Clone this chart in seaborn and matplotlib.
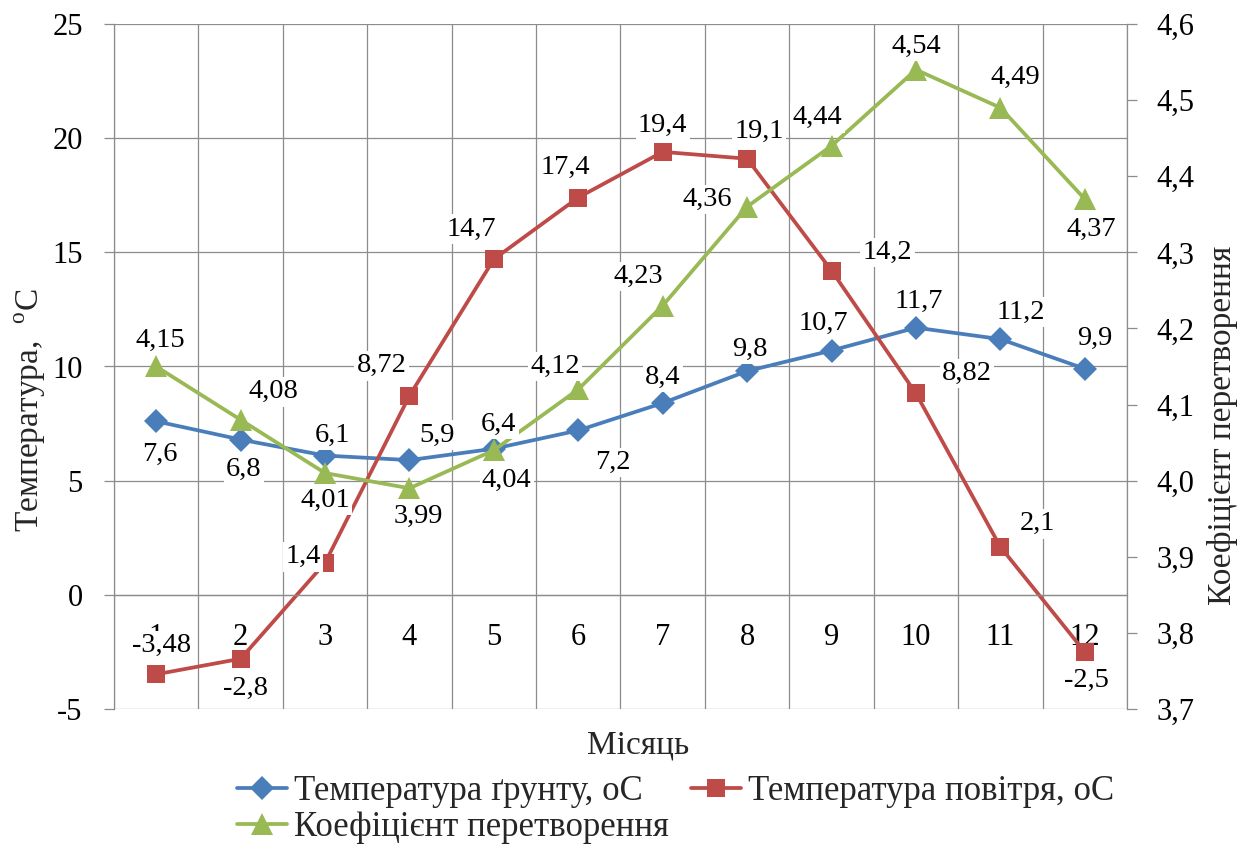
import matplotlib
matplotlib.use("Agg")
import matplotlib.pyplot as plt
import seaborn as sns
import pandas as pd
from matplotlib.ticker import FuncFormatter

# ---- data -------------------------------------------------------------
months = list(range(1, 13))
month_labels = [str(m) for m in months]
ground_temp = [7.6, 6.8, 6.1, 5.9, 6.4, 7.2, 8.4, 9.8, 10.7, 11.7, 11.2, 9.9]
air_temp = [-3.48, -2.8, 1.4, 8.72, 14.7, 17.4, 19.4, 19.1, 14.2, 8.82, 2.1, -2.5]
conversion_coef = [4.15, 4.08, 4.01, 3.99, 4.04, 4.12, 4.23, 4.36, 4.44, 4.54, 4.49, 4.37]

temp_ticks = [-5, 0, 5, 10, 15, 20, 25]
coef_ticks = [3.7, 3.8, 3.9, 4.0, 4.1, 4.2, 4.3, 4.4, 4.5, 4.6]

name_ground = "Температура ґрунту, оС"
name_air = "Температура повітря, оС"
name_coef = "Коефіцієнт перетворення"

# label placement relative to each point (pixels: right, up)
ground_label_shift = [(4, -33), (3, -30), (7, 20), (28, 25), (5, 24), (35, -32),
                      (0, 26), (3, 22), (-8, 27), (3, 26), (20, 27), (10, 30)]
air_label_shift = [(5, 29), (5, -30), (-22, 6), (-28, 30), (-23, 30), (-13, 30),
                   (0, 26), (12, 27), (56, 18), (51, 20), (37, 23), (2, -28)]
coef_label_shift = [(4, 26), (33, 28), (0, -27), (9, -28), (13, -30), (-23, 23),
                    (-24, 29), (-40, 7), (-14, 28), (0, 23), (15, 30), (7, -30)]

# ---- style --------------------------------------------------------------
sns.set_theme(style="white")
plt.rcParams["font.family"] = ["Liberation Serif", "DejaVu Serif"]
plt.rcParams["mathtext.fontset"] = "custom"
plt.rcParams["mathtext.rm"] = "Liberation Serif"

BLUE = "#4A7EBB"
RED = "#BE4B48"
GREEN = "#98B954"
GRID = "#8C8C8C"
TICK_FS = 22
LABEL_FS = 20.5
TITLE_FS = 24
LEGEND_FS = 25

W, H = 1254, 847
fig = plt.figure(figsize=(W / 100, H / 100), dpi=100)
left, right, top, bottom = 114, 1127, 24, 709
ax = fig.add_axes([left / W, 1 - bottom / H, (right - left) / W, (bottom - top) / H])

df = pd.DataFrame({"month": months, "ground": ground_temp,
                   "air": air_temp, "coef": conversion_coef})

# ---- temperature axis ------------------------------------------------------
sns.lineplot(data=df, x="month", y="ground", ax=ax, color=BLUE, marker="D",
             markersize=12.5, markeredgewidth=0, linewidth=2.7, legend=False)
h_ground = ax.lines[-1]
sns.lineplot(data=df, x="month", y="air", ax=ax, color=RED, marker="s",
             markersize=13, markeredgewidth=0, linewidth=2.7, legend=False)
h_air = ax.lines[-1]

ax.set_xlim(0.5, 12.5)
ax.set_ylim(temp_ticks[0], temp_ticks[-1])
ax.set_yticks(temp_ticks)
ax.set_yticklabels([str(t) for t in temp_ticks])
ax.set_xticks(months)
ax.set_xticklabels(month_labels)
ax.set_xticks([m + 0.5 for m in range(0, 13)], minor=True)
ax.set_xlabel("")
ax.set_ylabel("")

ax.grid(axis="y", which="major", color=GRID, linewidth=0.9)
ax.grid(axis="x", which="minor", color=GRID, linewidth=0.9)
ax.grid(axis="x", which="major", visible=False)
ax.set_axisbelow(True)

ax.spines["bottom"].set_position(("data", 0))
ax.spines["bottom"].set_color(GRID)
ax.spines["bottom"].set_linewidth(0.9)
ax.spines["left"].set_color(GRID)
ax.spines["left"].set_linewidth(0.9)
ax.spines["top"].set_visible(False)
ax.spines["right"].set_visible(False)

ax.tick_params(axis="x", which="both", length=0, pad=20, labelsize=TICK_FS,
               labelcolor="black")
ax.tick_params(axis="y", which="major", left=True, direction="out", length=7.5,
               width=0.9, color=GRID, pad=15, labelsize=TICK_FS, labelcolor="black")

# ---- coefficient axis ----------------------------------------------------
ax2 = ax.twinx()
sns.lineplot(data=df, x="month", y="coef", ax=ax2, color=GREEN, marker="^",
             markersize=16, markeredgewidth=0, linewidth=2.7, legend=False)
h_coef = ax2.lines[-1]
ax2.set_ylim(coef_ticks[0], coef_ticks[-1])
ax2.set_yticks(coef_ticks)
ax2.yaxis.set_major_formatter(FuncFormatter(lambda v, _: f"{v:.1f}".replace(".", ",")))
ax2.set_ylabel("")
ax2.grid(False)
for side in ("top", "bottom", "left"):
    ax2.spines[side].set_visible(False)
ax2.spines["right"].set_color(GRID)
ax2.spines["right"].set_linewidth(0.9)
ax2.tick_params(axis="y", right=True, direction="out", length=7.5, width=0.9,
                color=GRID, pad=14, labelsize=TICK_FS, labelcolor="black")


def fmt(v):
    return f"{v:g}".replace(".", ",")


def put_labels(values, shifts, transform):
    for m, v, (dx, dy) in zip(months, values, shifts):
        ax2.annotate(fmt(v), xy=(m, v), xycoords=transform,
                     xytext=(dx, dy), textcoords="offset pixels",
                     ha="center", va="center", fontsize=LABEL_FS, color="black",
                     bbox=dict(boxstyle="square,pad=0.08", fc="white", ec="none"),
                     zorder=6, annotation_clip=False)


put_labels(ground_temp, ground_label_shift, ax.transData)
put_labels(air_temp, air_label_shift, ax.transData)
put_labels(conversion_coef, coef_label_shift, ax2.transData)

# ---- titles and legend ----------------------------------------------------
fig.text(30 / W, 1 - 410 / H, "Температура,  $^{\\mathrm{o}}$C", rotation=90,
         ha="center", va="center", fontsize=TITLE_FS)
fig.text(1223 / W, 1 - 425 / H, name_coef, rotation=90,
         ha="center", va="center", fontsize=TITLE_FS)
fig.text(638 / W, 1 - 745 / H, "Місяць", ha="center", va="center",
         fontsize=TITLE_FS)

fig.legend(handles=[h_ground, h_coef, h_air],
           labels=[name_ground, name_coef, name_air],
           ncol=2, loc="upper left", bbox_to_anchor=(237 / W, 1 - 775 / H),
           frameon=False, fontsize=LEGEND_FS, handlelength=1.45,
           handletextpad=0.2, columnspacing=0.62, labelspacing=0.1,
           borderpad=0, borderaxespad=0)

fig.savefig("out.png", dpi=100)
